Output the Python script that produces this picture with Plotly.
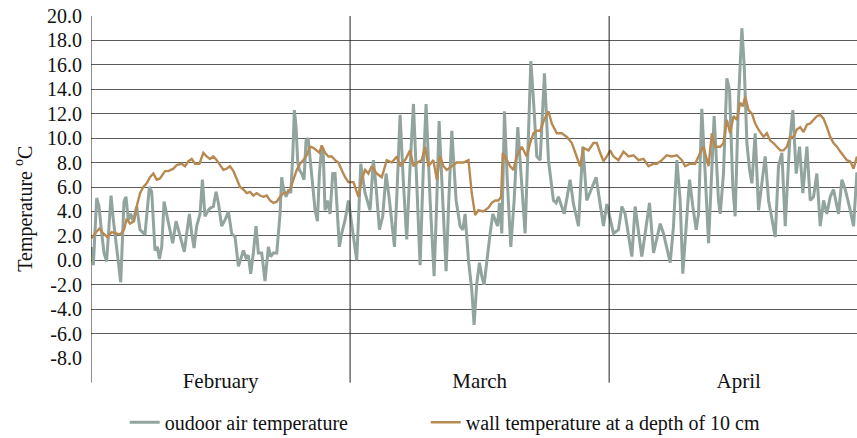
import plotly.graph_objects as go

# time axis: days from 1 February, each month drawn with equal width (30 units)
month_labels = ["February", "March", "April"]
month_starts = [0, 30, 60]
month_centers = [15, 45, 75]

outdoor_t = [0.08, 0.27, 0.66, 0.93, 1.24, 1.51, 1.81, 2.32, 2.59, 2.90, 3.44, 3.82, 4.05, 4.32, 4.59, 4.90,
             5.29, 5.68, 6.25, 6.76, 7.03, 7.41, 7.68, 7.92, 8.19, 8.46, 8.76, 9.15, 9.46, 9.85, 10.23, 10.50,
             10.81, 11.08, 11.39, 11.66, 11.93, 12.24, 12.63, 12.90, 13.20, 13.59, 13.86, 14.17, 14.48, 14.75,
             15.13, 15.52, 15.91, 16.29, 16.68, 17.07, 17.34, 17.65, 17.95, 18.22, 18.49, 18.80, 19.11, 19.38,
             19.77, 20.15, 20.54, 20.81, 21.12, 21.51, 21.89, 22.08, 22.28, 22.59, 22.90, 23.13, 23.36, 23.55,
             23.75, 23.94, 24.13, 24.40, 24.67, 24.90, 25.14, 25.37, 25.64, 25.95, 26.22, 26.45, 26.72, 26.91,
             27.10, 27.37, 27.68, 27.99, 28.26, 28.53, 28.76, 29.03, 29.42, 29.81,
             30.77, 31.24, 31.74, 32.32, 32.70, 33.01, 33.40, 33.78, 34.17, 34.56, 34.94, 35.14, 35.41, 35.79,
             36.18, 36.56, 36.95, 37.34, 37.72, 38.11, 38.49, 38.80, 39.27, 39.73, 40.04, 40.31, 40.73, 41.12,
             41.43, 41.78, 42.28, 42.74, 43.05, 43.32, 43.71, 44.09, 44.36, 44.67, 44.98, 45.25, 45.52, 45.83,
             46.22, 46.53, 46.80, 47.07, 47.30, 47.57, 47.88, 48.22, 48.61, 49.00, 49.42, 49.88, 50.27, 50.66,
             50.93, 51.24, 51.62, 52.01, 52.51, 52.97, 53.55, 53.86, 54.13, 54.79, 55.48, 55.87, 56.45, 56.95,
             57.41, 58.49, 59.15, 59.34, 59.73, 60.50,
             61.08, 61.47, 61.85, 62.24, 62.63, 63.01, 63.40, 63.78, 64.17, 64.67, 65.14, 65.52, 65.91,
             66.29, 67.07, 67.45, 67.84, 68.22, 68.53, 68.92, 69.31, 69.69, 70.08, 70.35, 70.73, 71.12, 71.51,
             72.16, 72.66, 72.86, 73.24, 73.63, 73.94, 74.32, 74.59, 74.98, 75.37, 75.64, 75.95, 76.26, 76.53,
             76.91, 77.30, 77.68, 78.07, 78.46, 79.23, 79.61, 80.00, 80.39, 80.89, 81.27, 81.66, 82.05, 82.43,
             82.90, 83.28, 83.67, 84.05, 84.44, 84.83, 85.21, 85.60, 85.98, 86.56, 86.95, 87.34, 87.92, 88.30,
             88.69]
outdoor_temp = [1.1, -0.4, 5.1, 4.4, 2.2, 0.6, -0.1, 5.3, 3.3, 1.3, -1.8, 4.8, 5.2, 3.3, 3.8, 3.2,
                4.4, 2.5, 2.1, 6.0, 5.6, 0.8, 1.1, 0.1, 1.1, 4.8, 3.8, 2.5, 1.4, 3.2, 2.2, 1.7,
                0.7, 2.2, 3.8, 2.2, 1.0, 2.8, 3.8, 6.6, 3.6, 4.1, 4.3, 4.4, 5.6, 4.7,
                2.8, 3.3, 4.0, 2.2, 1.9, -0.5, 0.2, 0.8, 0.2, 0.4, -1.1, 0.6, 2.8, 0.6,
                0.6, -1.7, 1.1, 0.3, 0.6, 0.6, 3.8, 6.8, 5.9, 5.2, 5.8, 5.5, 8.5, 12.3,
                10.9, 8.0, 7.4, 7.1, 6.6, 9.8, 10.0, 8.2, 6.0, 4.1, 3.2, 7.1, 9.3, 8.5,
                4.1, 4.9, 3.8, 7.1, 7.1, 3.6, 1.1, 2.2, 3.3, 4.9,
                0.0, 7.9, 5.5, 4.1, 8.2, 6.0, 2.5, 3.6, 7.1, 4.9, 2.2, 1.1, 5.2, 11.9,
                6.3, 1.7, 7.7, 12.8, 6.3, -0.4, 7.7, 12.8, 4.9, -1.3, 4.9, 11.4, 4.9, -0.9,
                4.9, 10.6, 4.9, 2.8, 2.5, 3.8, 0.0, -2.4, -5.3, -1.9, -0.2, -1.3, -2.0, 0.0,
                2.2, 3.8, 3.3, 2.8, 4.7, 2.2, 12.2, 6.3, 1.1, 4.9, 10.9, 6.3, 2.2, 10.4,
                16.3, 13.1, 8.5, 8.2, 15.3, 8.2, 4.9, 4.7, 5.2, 3.8, 6.6, 4.6, 2.8, 9.3,
                4.9, 6.8, 3.8, 2.8, 4.6, 2.2,
                2.5, 4.4, 3.8, 1.9, 0.3, 4.4, 2.5, 0.3, 2.2, 4.7, 0.6, 1.7, 3.0,
                2.2, -0.2, 2.8, 8.2, 4.9, -1.1, 2.8, 6.6, 4.4, 2.5, 3.8, 12.4, 7.1, 1.4,
                11.8, 4.9, 3.8, 7.1, 14.9, 13.9, 6.0, 3.6, 13.1, 19.0, 15.9, 9.6, 7.4, 6.3,
                10.4, 4.1, 6.3, 8.5, 4.9, 1.9, 7.7, 8.8, 2.8, 9.6, 12.3, 7.1, 9.3, 5.5,
                9.3, 4.9, 5.2, 7.1, 2.8, 4.9, 3.8, 5.2, 5.8, 3.8, 6.6, 5.8, 4.1, 2.8,
                7.2]

wall_t = [0.08, 0.46, 0.97, 1.43, 1.89, 2.39, 2.90, 3.36, 3.82, 4.13, 4.52, 4.98, 5.29, 5.68, 6.06, 6.45,
          6.83, 7.22, 7.61, 7.99, 8.57, 8.96, 9.54, 9.92, 10.50, 10.89, 11.27, 11.66, 12.05, 12.55, 13.01,
          13.40, 13.78, 14.17, 14.56, 14.94, 15.33, 15.71, 16.10, 16.49, 16.87, 17.26, 17.65, 18.03, 18.42,
          18.80, 19.19, 19.58, 19.96, 20.35, 20.73, 21.12, 21.51, 21.89, 22.28, 22.66, 23.05, 23.44, 23.82,
          24.21, 24.59, 24.98, 25.37, 25.75, 26.14, 26.45, 26.72, 27.10, 27.49, 27.88, 28.26, 28.65, 29.03,
          29.42, 29.81,
          30.39, 30.97, 31.35, 31.74, 32.12, 32.51, 33.09, 33.67, 34.25, 34.83, 35.41, 35.79, 36.37, 36.95,
          37.34, 37.80, 38.30, 38.69, 39.07, 39.65, 40.04, 40.42, 40.81, 41.20, 41.78, 42.35, 43.13, 43.71,
          44.09, 44.48, 44.86, 45.44, 46.02, 46.41, 46.80, 47.18, 47.49, 47.68, 48.15, 48.53, 48.92, 49.30,
          49.88, 50.46, 50.85, 51.24, 51.62, 52.01, 52.47, 52.97, 53.36, 53.94, 54.52, 55.10, 55.68, 56.26,
          56.64, 57.03, 57.61, 58.18, 58.57, 58.96, 59.34, 59.73, 60.12, 60.50, 61.08,
          61.66, 62.24, 62.82, 63.40, 63.98, 64.55, 65.14, 65.52, 66.10, 66.68, 67.26, 67.84, 68.42, 68.80,
          69.38, 69.96, 70.54, 70.93, 71.51, 71.89, 72.28, 72.86, 73.24, 73.63, 74.01, 74.40, 74.79, 75.17,
          75.48, 75.75, 76.14, 76.53, 76.91, 77.30, 77.88, 78.26, 78.65, 79.03, 79.42, 79.81, 80.19, 80.58,
          80.96, 81.35, 81.74, 82.12, 82.51, 82.90, 83.28, 83.67, 84.05, 84.44, 84.83, 85.21, 85.60, 85.98,
          86.37, 86.76, 87.14, 87.53, 87.92, 88.30, 88.69]
wall_temp = [1.8, 2.2, 2.6, 2.2, 1.9, 2.3, 2.2, 2.1, 2.5, 3.4, 3.0, 3.2, 4.4, 5.5, 6.0, 6.3,
             6.8, 7.1, 6.6, 6.7, 7.3, 7.3, 7.5, 7.8, 7.9, 7.7, 8.1, 8.3, 7.9, 7.9, 8.8,
             8.5, 8.3, 8.5, 8.2, 7.8, 7.4, 7.5, 7.7, 7.3, 6.7, 6.0, 5.8, 5.5, 5.6,
             5.3, 5.5, 5.3, 5.2, 5.3, 4.9, 4.7, 4.8, 5.2, 5.5, 5.5, 5.8, 6.6, 7.4,
             7.9, 8.2, 8.6, 9.3, 9.2, 9.0, 8.8, 9.4, 8.8, 8.5, 8.5, 8.2, 8.0, 7.4,
             6.8, 6.4,
             6.4, 5.2, 6.6, 7.4, 7.1, 7.7, 7.1, 6.8, 8.2, 8.0, 8.5, 7.7, 8.2, 9.0,
             7.7, 8.0, 8.2, 9.3, 7.7, 8.2, 6.6, 8.5, 7.7, 7.4, 7.7, 8.0, 8.0, 8.2,
             5.5, 3.7, 4.1, 4.0, 4.3, 4.7, 4.9, 4.9, 5.2, 8.8, 8.2, 7.7, 7.4, 8.5,
             9.3, 8.5, 9.6, 10.4, 10.6, 10.6, 11.5, 12.2, 11.2, 10.4, 10.4, 10.1, 9.6, 8.5,
             7.7, 9.2, 9.0, 9.6, 9.6, 8.8, 8.1, 8.5, 9.0, 8.5, 8.2,
             8.9, 8.5, 8.6, 8.2, 8.3, 7.7, 7.9, 7.9, 8.2, 8.6, 8.5, 8.6, 8.2, 7.7,
             7.9, 7.9, 8.8, 9.3, 7.7, 10.4, 9.3, 9.3, 9.6, 11.5, 10.4, 11.8, 11.5, 12.9,
             12.6, 13.4, 12.3, 12.0, 11.2, 10.7, 10.1, 10.4, 9.8, 9.6, 9.3, 9.0, 9.0, 9.3,
             10.1, 10.1, 10.7, 10.9, 10.5, 11.1, 11.2, 11.5, 11.8, 11.9, 11.6, 10.9, 10.1, 9.6,
             9.3, 8.9, 8.5, 8.2, 8.1, 7.5, 8.5]

y_ticks = [-8, -6, -4, -2, 0, 2, 4, 6, 8, 10, 12, 14, 16, 18, 20]
y_tick_text = [f"{v:.1f}" for v in y_ticks]

FONT = "Liberation Serif, Times New Roman, serif"
GRID = "#5c5c5c"

fig = go.Figure()
fig.add_trace(go.Scatter(x=outdoor_t, y=outdoor_temp, mode="lines",
                         name="oudoor air temperature", legend="legend",
                         line=dict(color="#92a49e", width=3)))
fig.add_trace(go.Scatter(x=wall_t, y=wall_temp, mode="lines",
                         name="wall temperature at a depth of 10 cm", legend="legend2",
                         line=dict(color="#b88a52", width=2.4)))

# month separator lines (extend below the lowest gridline like category tick marks)
for ms in month_starts:
    fig.add_shape(type="line", xref="x", yref="paper", x0=ms, x1=ms, y0=-0.072, y1=1,
                  line=dict(color="#222222", width=1))

fig.add_annotation(text="Temperature <sup>o</sup>C", xref="paper", yref="paper",
                   x=-0.088, y=0.435, textangle=-90, showarrow=False,
                   xanchor="center", yanchor="middle",
                   font=dict(family=FONT, size=20, color="#111111"))

legend_style = dict(orientation="h", y=-0.188, xanchor="left", yanchor="middle",
                    bgcolor="rgba(0,0,0,0)",
                    font=dict(family=FONT, size=20, color="#111111"))

fig.update_layout(
    width=857, height=438,
    margin=dict(l=91, r=0, t=16, b=80, autoexpand=False),
    paper_bgcolor="white", plot_bgcolor="white",
    font=dict(family=FONT, size=20, color="#111111"),
    showlegend=True,
    legend=dict(x=0.044, **legend_style),
    legend2=dict(x=0.437, **legend_style),
    xaxis=dict(range=[0, 88.7], tickmode="array", tickvals=month_centers, ticktext=month_labels,
               showgrid=False, zeroline=False, showline=False, ticks="",
               ticklabelstandoff=8, tickfont=dict(family=FONT, size=21)),
    yaxis=dict(range=[-8, 20], tickmode="array", tickvals=y_ticks, ticktext=y_tick_text,
               showgrid=True, gridcolor=GRID, gridwidth=1,
               zeroline=False, showline=False, ticks="", ticklabelstandoff=8,
               tickfont=dict(family=FONT, size=20)),
)

fig.write_html("out.html", config={"displayModeBar": False},
               post_script="document.body.style.margin='0';")
